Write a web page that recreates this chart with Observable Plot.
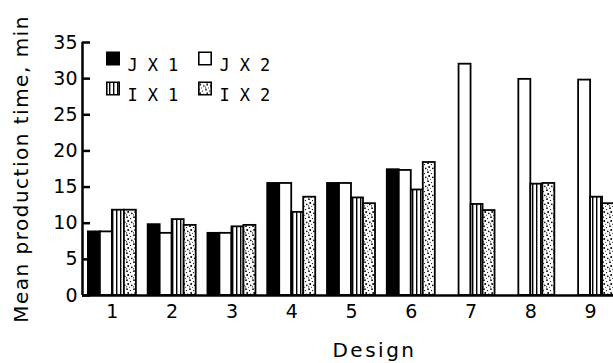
<!DOCTYPE html>
<html><head><meta charset="utf-8">
<script src="https://cdn.jsdelivr.net/npm/d3@7"></script>
<script src="https://cdn.jsdelivr.net/npm/@observablehq/plot@0.6"></script>
<style>
html,body{margin:0;padding:0;background:#fff;overflow:hidden;}
#chart svg{display:block}
</style></head><body>
<svg width="0" height="0" style="position:absolute">
<defs>
<pattern id="stripes" patternUnits="userSpaceOnUse" width="4" height="10">
<rect width="4" height="10" fill="#fff"/><rect x="0" width="1.4" height="10" fill="#000"/>
</pattern>
<pattern id="stipple" patternUnits="userSpaceOnUse" width="7" height="9">
<rect width="7" height="9" fill="#fff"/>
<circle cx="1" cy="1.2" r="0.9" fill="#000"/>
<circle cx="4.5" cy="2.6" r="0.7" fill="#000"/>
<circle cx="2.2" cy="5" r="1" fill="#000"/>
<circle cx="5.8" cy="6.4" r="0.8" fill="#000"/>
<circle cx="0.6" cy="7.8" r="0.6" fill="#000"/>
<circle cx="3.6" cy="8.2" r="0.5" fill="#000"/>
</pattern>
</defs></svg>
<div id="chart"></div>
<script>
const designs = ["1","2","3","4","5","6","7","8","9"];
const seriesNames = ["JX1","JX2","IX1","IX2"];
const jx1 = [8.8, 9.8, 8.6, 15.5, 15.5, 17.4, 0, 0, 0];
const jx2 = [8.8, 8.6, 8.6, 15.5, 15.5, 17.3, 32.0, 29.9, 29.8];
const ix1 = [11.8, 10.5, 9.5, 11.5, 13.5, 14.6, 12.6, 15.4, 13.6];
const ix2 = [11.8, 9.7, 9.7, 13.6, 12.7, 18.4, 11.75, 15.5, 12.7];
const yTicks = [0, 5, 10, 15, 20, 25, 30, 35];
const yLabel = "Mean production time, min";
const xLabel = "Design";

const seriesValues = [jx1, jx2, ix1, ix2];
const fills = ["#000", "#fff", "url(#stripes)", "url(#stipple)"];

const table = designs.flatMap((d, i) => seriesNames.map((s, k) => ({design: d, series: s, value: seriesValues[k][i]})));

const W = 613, H = 363, mL = 82, mT = 42, mB = 68, mR = 0;
const xRange = [82, 620];
const bw = (xRange[1] - xRange[0]) / designs.length;
const barW = 12;
const fw = W - mL - mR;

const bars = seriesNames.map((s, k) => Plot.barY(table.filter(r => r.series === s), {
  x: "design", y: "value",
  fill: fills[k], stroke: "#000", strokeWidth: 1.8,
  insetLeft: bw / 2 - 2 * barW + k * barW,
  insetRight: bw / 2 + barW - k * barW
}));

const legend = seriesNames.flatMap((s, k) => {
  const row = Math.floor(k / 2), col = k % 2;
  return [
    Plot.dot([s], {frameAnchor: "top-left", symbol: "square", r: 7, fill: fills[k], stroke: "#000", strokeWidth: 1.6,
      dx: 30.5 + col * 92, dy: 16 + row * 30}),
    Plot.text([s], {frameAnchor: "top-left", textAnchor: "start", dx: 45 + col * 92, dy: 16 + row * 30,
      fontSize: 17, fontFamily: "DejaVu Sans Mono", fill: "#000"})
  ];
});

const plot = Plot.plot({
  width: W, height: H,
  marginLeft: mL, marginRight: mR, marginTop: mT, marginBottom: mB,
  style: {fontFamily: "DejaVu Sans", color: "#000", background: "#fff"},
  x: {type: "band", domain: designs, range: xRange, padding: 0, round: false},
  y: {domain: [0, 35]},
  marks: [
    ...bars,
    Plot.ruleY([0], {stroke: "#000", strokeWidth: 2.5}),
    Plot.ruleX([designs[0]], {y1: yTicks[0], y2: yTicks[yTicks.length - 1], dx: -bw / 2, stroke: "#000", strokeWidth: 2.5}),
    Plot.tickY(yTicks, {y: d => d, insetRight: fw - 8, stroke: "#000", strokeWidth: 2.5}),
    Plot.axisY(yTicks, {tickSize: 0, tickPadding: 5, fontSize: 19, label: null}),
    Plot.axisX({tickSize: 0, tickPadding: 9, fontSize: 19, label: null}),
    Plot.text([yLabel], {frameAnchor: "left", textAnchor: "middle", dx: -61, rotate: -90, fontSize: 20}),
    Plot.text([xLabel], {frameAnchor: "bottom", textAnchor: "middle", dx: 26.5, dy: 61, fontSize: 20}),
    ...legend
  ]
});
document.getElementById("chart").appendChild(plot);
d3.select(plot).selectAll("text").each(function() {
  const t = this.textContent;
  if (seriesNames.includes(t)) this.style.letterSpacing = "10px";
  else if (t === yLabel) this.style.letterSpacing = "1.5px";
  else if (t === xLabel) this.style.letterSpacing = "2.5px";
});
</script>
</body></html>
